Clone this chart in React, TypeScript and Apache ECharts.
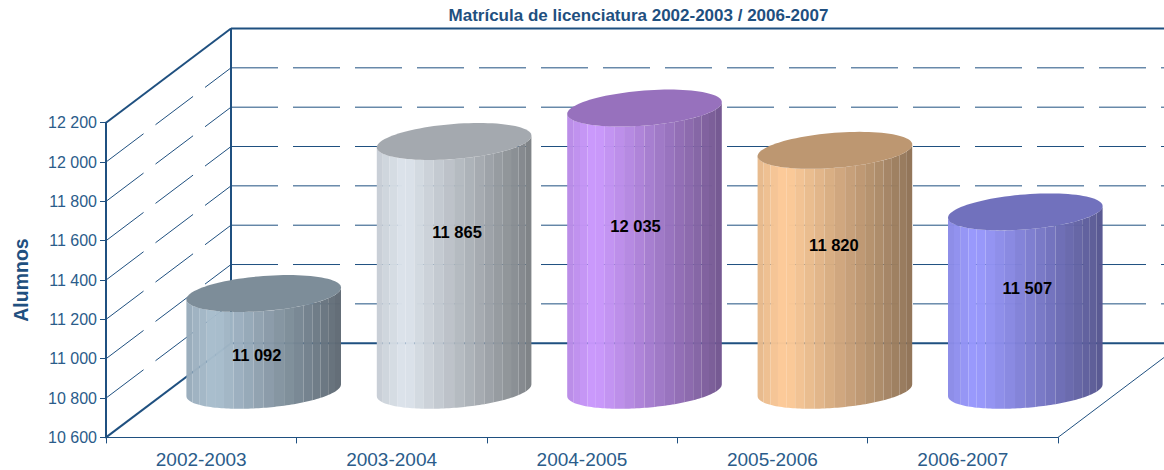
import React, { useEffect, useRef } from "react";
import * as echarts from "echarts";

const categories = ["2002-2003", "2003-2004", "2004-2005", "2005-2006", "2006-2007"];
const values = [11092, 11865, 12035, 11820, 11507];
const yTicks = [10600, 10800, 11000, 11200, 11400, 11600, 11800, 12000, 12200];
const baseColors = ["#A9BECF", "#DDE4EC", "#CC99FF", "#FFCC99", "#9999FF"];

const FONT = '"Liberation Sans", Arial, sans-serif';
const LINE = "#1F5080";
const TEXT = "#2B5C8A";
const DEPTH_X = 125;
const DEPTH_Y = 94.2;
const STRIPS = 18;
// label placement relative to each cylinder (share of height, px shift)
const labelShare = [0.36, 0.637, 0.582, 0.604, 0.573];
const labelShift = [-7, 3, -9, -1, 2];

const fmt = (v: number) => String(v).replace(/\B(?=(\d{3})+$)/g, " ");
const hexRgb = (h: string) => [1, 3, 5].map((i) => parseInt(h.slice(i, i + 2), 16));
const scale = (h: string, f: number) => {
  const [r, g, b] = hexRgb(h);
  return `rgb(${Math.round(r * f)},${Math.round(g * f)},${Math.round(b * f)})`;
};
const shade = (p: number) => (p < 0.18 ? 0.9 + (0.1 * p) / 0.18 : 1 - (0.44 * (p - 0.18)) / 0.82);

function renderWall(params: any, api: any) {
  const v = api.value(0);
  const cs = params.coordSys;
  const front = api.coord([0, v]);
  const fx = cs.x;
  const fy = front[1];
  const bx = fx + DEPTH_X;
  const by = fy - DEPTH_Y;
  const edge = v === 10600 || v === 12200;
  const style = {
    stroke: LINE,
    lineWidth: edge ? 2 : 1,
    lineDash: edge ? undefined : [47, 15],
    fill: "none",
  };
  const children: any[] = [
    { type: "line", shape: { x1: fx, y1: fy, x2: bx, y2: by }, style },
    { type: "line", shape: { x1: bx, y1: by, x2: bx + cs.width, y2: by }, style },
  ];
  if (v === 10600) {
    children.push({
      type: "line",
      shape: { x1: bx, y1: by, x2: bx, y2: by - cs.height + 0 },
      style: { stroke: LINE, lineWidth: 2, fill: "none" },
    });
    children.push({
      type: "line",
      shape: { x1: fx + cs.width, y1: fy, x2: fx + cs.width + DEPTH_X, y2: by },
      style: { stroke: LINE, lineWidth: 1, fill: "none" },
    });
  }
  return { type: "group", silent: true, children };
}

function renderCylinder(params: any, api: any) {
  const i = api.value(0);
  const v = api.value(1);
  const band = api.size([1, 0])[0];
  const base = api.coord([i, yTicks[0]]);
  const top = api.coord([i, v]);
  const cx = base[0] + DEPTH_X / 2;
  const by = base[1] - DEPTH_Y / 2;
  const ty = top[1] - DEPTH_Y / 2;
  const halfW = band * 0.406;
  const vy = 18.5;
  const vx = (vy * DEPTH_X) / DEPTH_Y;
  const ux = Math.sqrt(Math.max(halfW * halfW - vx * vx, 1));
  const th0 = Math.atan2(vx, ux);
  const pt = (th: number, cy: number) => [cx + Math.cos(th) * ux + Math.sin(th) * vx, cy - Math.sin(th) * vy];
  const color = baseColors[i];
  const children: any[] = [];
  const sToT = (s: number) => {
    const u = 0.35 * -Math.cos(Math.PI * s) + 0.65 * (2 * s - 1);
    return Math.acos(-u) / Math.PI;
  };
  for (let k = 0; k < STRIPS; k++) {
    const a = sToT(k / STRIPS);
    const b = sToT((k + 1) / STRIPS);
    const upper: number[][] = [];
    const lower: number[][] = [];
    for (let j = 0; j <= 4; j++) {
      const th = th0 + Math.PI + Math.PI * (a + ((b - a) * j) / 4);
      upper.push(pt(th, ty));
      lower.unshift(pt(th, by));
    }
    const p = (1 - Math.cos(Math.PI * (a + b) * 0.5)) / 2;
    children.push({
      type: "polygon",
      shape: { points: upper.concat(lower) },
      style: { fill: scale(color, shade(p)), opacity: 0.975 },
    });
  }
  const cap: number[][] = [];
  for (let j = 0; j < 96; j++) cap.push(pt((j / 96) * Math.PI * 2, ty));
  children.push({
    type: "polygon",
    shape: { points: cap },
    style: { fill: scale(color, 0.74) },
  });
  children.push({
    type: "text",
    style: {
      text: fmt(v),
      x: cx + labelShift[i],
      y: by - (by - ty) * labelShare[i],
      align: "center",
      verticalAlign: "middle",
      fill: "#000",
      font: `bold 16.5px ${FONT}`,
    },
  });
  return { type: "group", silent: true, children };
}

export default function App() {
  const ref = useRef<HTMLDivElement>(null);
  useEffect(() => {
    const chart = echarts.init(ref.current!, undefined, { renderer: "svg" });
    chart.setOption({
      animation: false,
      textStyle: { fontFamily: FONT },
      title: {
        text: "Matrícula de licenciatura 2002-2003 / 2006-2007",
        left: 633.5,
        top: 2,
        textAlign: "center",
        textStyle: { fontFamily: FONT, fontSize: 17, fontWeight: "bold", color: "#1F5080" },
      },
      grid: { left: 106, right: 106, top: 122.7, bottom: 32.6, containLabel: false, outerBoundsMode: "none" },
      xAxis: {
        type: "category",
        data: categories,
        axisLine: { lineStyle: { color: LINE, width: 1 } },
        axisTick: { show: true, length: 6, lineStyle: { color: LINE } },
        axisLabel: { color: TEXT, fontSize: 19, fontFamily: FONT, margin: 13 },
      },
      yAxis: {
        type: "value",
        min: 10600,
        max: 12200,
        interval: 200,
        name: "Alumnos",
        nameLocation: "middle",
        nameGap: 75,
        nameTextStyle: { color: "#1F5080", fontSize: 19.5, fontWeight: "bold", fontFamily: FONT },
        axisLine: { show: true, lineStyle: { color: LINE, width: 2 } },
        axisTick: { show: true, length: 6, lineStyle: { color: LINE } },
        axisLabel: { color: TEXT, fontSize: 16, fontFamily: FONT, margin: 9, formatter: fmt },
        splitLine: { show: false },
      },
      series: [
        {
          type: "custom",
          coordinateSystem: "cartesian2d",
          clip: false,
          z: 1,
          data: yTicks.map((v) => [v]),
          encode: { y: 0 },
          renderItem: renderWall,
        },
        {
          type: "custom",
          coordinateSystem: "cartesian2d",
          clip: false,
          z: 2,
          data: values.map((v, i) => [i, v]),
          encode: { x: 0, y: 1 },
          renderItem: renderCylinder,
        },
      ],
    });
    return () => chart.dispose();
  }, []);
  return <div ref={ref} style={{ position: "absolute", left: 0, top: 0, width: 1164, height: 470 }} />;
}
